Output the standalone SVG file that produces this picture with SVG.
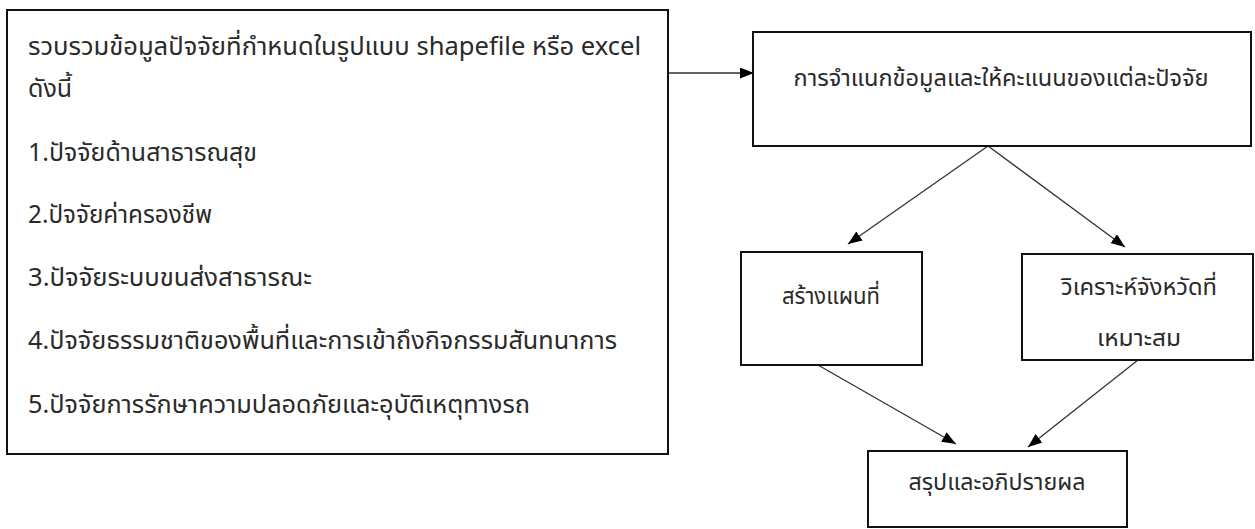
<svg xmlns="http://www.w3.org/2000/svg" width="1255" height="529" viewBox="0 0 1255 529">
<style>
.box{fill:#fff;stroke:#111;stroke-width:2}
.t{font-family:"Noto Sans","Noto Sans Thai","DejaVu Sans",sans-serif;fill:#2a2a2a}
.l{font-size:25px}
.r{font-size:23px;text-anchor:middle}
.c{stroke:#333;stroke-width:1.3;fill:none;marker-end:url(#ah)}
</style>
<defs>
<marker id="ah" viewBox="0 0 14 11" refX="14" refY="5.5" markerWidth="14" markerHeight="11" markerUnits="userSpaceOnUse" orient="auto">
<path d="M0,0 L14,5.5 L0,11 Z" fill="#000"/>
</marker>
</defs>
<rect width="1255" height="529" fill="#fff"/>
<g id="connectors">
<line class="c" x1="668" y1="73" x2="754" y2="73"/>
<line class="c" x1="988" y1="146" x2="848" y2="244"/>
<line class="c" x1="988" y1="146" x2="1125" y2="247"/>
<line class="c" x1="818" y1="365" x2="956" y2="444"/>
<line class="c" x1="1138" y1="360" x2="1028" y2="447"/>
</g>
<g id="collect">
<rect class="box" x="7" y="10" width="661" height="444"/>
<text class="t l" x="28" y="55" textLength="613" lengthAdjust="spacingAndGlyphs">รวบรวมข้อมูลปัจจัยที่กำหนดในรูปแบบ shapefile หรือ excel</text>
<text class="t l" x="28" y="97">ดังนี้</text>
<text class="t l" x="28" y="161" textLength="229" lengthAdjust="spacingAndGlyphs">1.ปัจจัยด้านสาธารณสุข</text>
<text class="t l" x="28" y="223" textLength="184" lengthAdjust="spacingAndGlyphs">2.ปัจจัยค่าครองชีพ</text>
<text class="t l" x="28" y="286" textLength="284" lengthAdjust="spacingAndGlyphs">3.ปัจจัยระบบขนส่งสาธารณะ</text>
<text class="t l" x="28" y="349" textLength="589" lengthAdjust="spacingAndGlyphs">4.ปัจจัยธรรมชาติของพื้นที่และการเข้าถึงกิจกรรมสันทนาการ</text>
<text class="t l" x="28" y="413" textLength="502" lengthAdjust="spacingAndGlyphs">5.ปัจจัยการรักษาความปลอดภัยและอุบัติเหตุทางรถ</text>
</g>
<g id="classify">
<rect class="box" x="753" y="32" width="498" height="114"/>
<text class="t r" x="1001" y="86" textLength="415" lengthAdjust="spacingAndGlyphs">การจำแนกข้อมูลและให้คะแนนของแต่ละปัจจัย</text>
</g>
<g id="map">
<rect class="box" x="741" y="252" width="181" height="113"/>
<text class="t r" x="831" y="304" textLength="98" lengthAdjust="spacingAndGlyphs">สร้างแผนที่</text>
</g>
<g id="analyze">
<rect class="box" x="1022" y="254" width="231" height="106"/>
<text class="t r" x="1139" y="295" textLength="156" lengthAdjust="spacingAndGlyphs">วิเคราะห์จังหวัดที่</text>
<text class="t r" x="1139" y="346" textLength="84" lengthAdjust="spacingAndGlyphs">เหมาะสม</text>
</g>
<g id="conclude">
<rect class="box" x="868" y="451" width="259" height="76"/>
<text class="t r" x="997" y="490" textLength="177" lengthAdjust="spacingAndGlyphs">สรุปและอภิปรายผล</text>
</g>
</svg>
